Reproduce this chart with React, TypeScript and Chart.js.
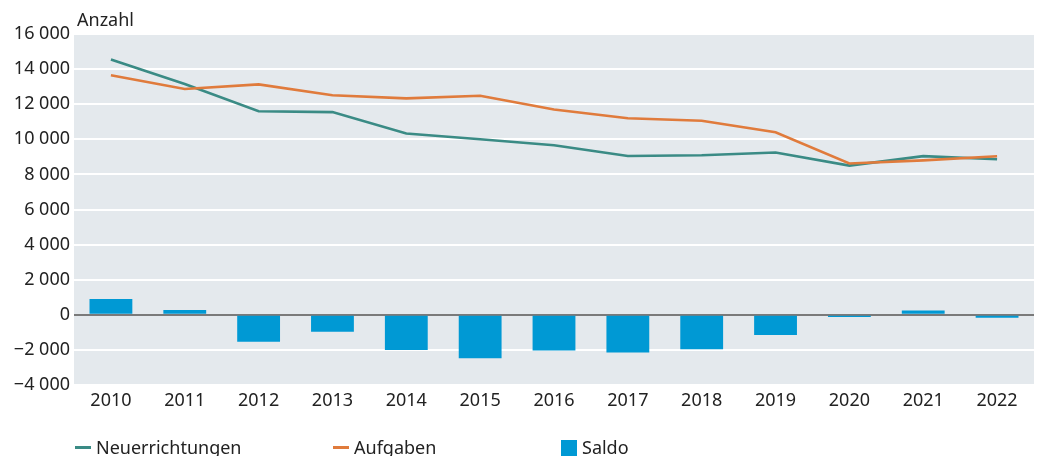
import React, { useEffect, useRef } from "react";
import { Chart, registerables } from "chart.js";

Chart.register(...registerables);

const years = ["2010", "2011", "2012", "2013", "2014", "2015", "2016", "2017", "2018", "2019", "2020", "2021", "2022"];
const neuerrichtungen = [14550, 13150, 11600, 11550, 10330, 10000, 9660, 9050, 9090, 9250, 8500, 9040, 8860];
const aufgaben = [13650, 12870, 13130, 12510, 12330, 12480, 11700, 11200, 11060, 10400, 8620, 8800, 9030];
const saldo = [900, 280, -1530, -960, -2000, -2480, -2040, -2150, -1970, -1150, -120, 240, -170];

const FONT = "'Noto Sans', sans-serif";
const TEAL = "#3a8b85";
const ORANGE = "#e07b3c";
const BLUE = "#0099d4";

function fmt(v: number): string {
  const abs = Math.abs(v);
  const s = abs >= 1000 ? Math.floor(abs / 1000) + " " + String(abs % 1000).padStart(3, "0") : String(abs);
  return (v < 0 ? "\u2212" : "") + s;
}

const bgPlugin = {
  id: "plotBg",
  beforeDraw(chart: any) {
    const { ctx, chartArea } = chart;
    ctx.save();
    ctx.fillStyle = "#e4e9ed";
    ctx.fillRect(chartArea.left, chartArea.top, chartArea.right - chartArea.left, chartArea.bottom - chartArea.top);
    ctx.restore();
  },
};

export default function App() {
  const ref = useRef<HTMLCanvasElement>(null);
  useEffect(() => {
    document.body.style.margin = "0";
    const chart = new Chart(ref.current as HTMLCanvasElement, {
      type: "bar",
      data: {
        labels: years,
        datasets: [
          {
            type: "line",
            label: "Neuerrichtungen",
            data: neuerrichtungen,
            borderColor: TEAL,
            backgroundColor: TEAL,
            borderWidth: 2.6,
            pointRadius: 0,
            tension: 0,
            order: 1,
          } as any,
          {
            type: "line",
            label: "Aufgaben",
            data: aufgaben,
            borderColor: ORANGE,
            backgroundColor: ORANGE,
            borderWidth: 2.6,
            pointRadius: 0,
            tension: 0,
            order: 0,
          } as any,
          {
            type: "bar",
            label: "Saldo",
            data: saldo,
            backgroundColor: BLUE,
            barPercentage: 0.58,
            categoryPercentage: 1,
            order: 2,
          },
        ],
      },
      options: {
        responsive: false,
        animation: false,
        layout: { padding: { top: 34, right: 7, bottom: 41, left: 0 } },
        plugins: {
          legend: { display: false },
          tooltip: { enabled: false },
        },
        scales: {
          x: {
            grid: { display: false, drawTicks: false },
            border: { display: false },
            ticks: { color: "#222", font: { family: FONT, size: 18 }, padding: 5, maxRotation: 0 },
            afterFit(scale: any) {
              scale.height = 30;
            },
          },
          y: {
            min: -4000,
            max: 16000,
            ticks: {
              stepSize: 2000,
              color: "#222",
              font: { family: FONT, size: 18 },
              padding: 4,
              callback: (v: any) => fmt(Number(v)),
            },
            grid: {
              drawTicks: false,
              color: (c: any) => (c.tick && c.tick.value === 0 ? "#7a7a7a" : "#ffffff"),
              lineWidth: 2,
            },
            border: { display: false },
            afterFit(scale: any) {
              scale.width = 74;
            },
          },
        },
      },
      plugins: [bgPlugin],
    });
    return () => chart.destroy();
  }, []);

  const textStyle: React.CSSProperties = {
    position: "absolute",
    fontFamily: FONT,
    fontSize: 18,
    color: "#222",
    whiteSpace: "nowrap",
    lineHeight: "20px",
  };

  return (
    <div style={{ position: "relative", width: 1041, height: 456, overflow: "hidden", background: "#fff" }}>
      <canvas ref={ref} width={1041} height={456} style={{ position: "absolute", left: 0, top: 0 }} />
      <div style={{ ...textStyle, left: 77, top: 9 }}>Anzahl</div>
      <div style={{ position: "absolute", left: 75, top: 446, width: 16, height: 2.5, background: TEAL }} />
      <div style={{ ...textStyle, left: 96, top: 437 }}>Neuerrichtungen</div>
      <div style={{ position: "absolute", left: 333, top: 446, width: 16, height: 2.5, background: ORANGE }} />
      <div style={{ ...textStyle, left: 354, top: 437 }}>Aufgaben</div>
      <div style={{ position: "absolute", left: 561, top: 440, width: 16, height: 16, background: BLUE }} />
      <div style={{ ...textStyle, left: 582, top: 437 }}>Saldo</div>
    </div>
  );
}
